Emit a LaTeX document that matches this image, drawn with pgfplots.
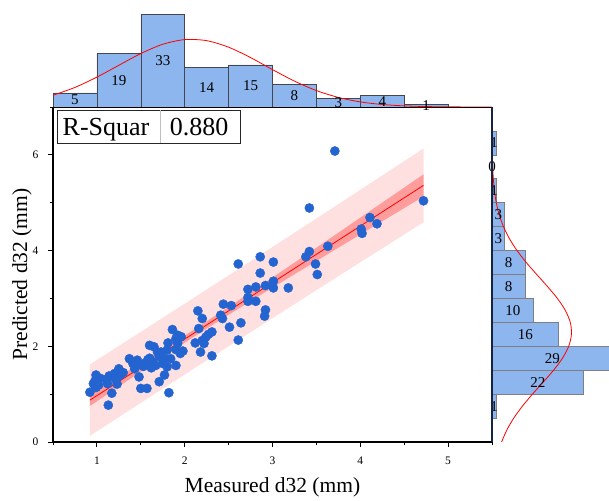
\documentclass[border=0pt]{standalone}
\usepackage{fontspec}
\setmainfont{Liberation Serif}
\usepackage{pgfplots}
\pgfplotsset{compat=1.18}
\definecolor{ptblue}{RGB}{35,100,208}
\definecolor{histblue}{RGB}{141,182,238}
\definecolor{histedge}{RGB}{70,70,80}
\definecolor{navy}{RGB}{20,35,70}
\begin{document}
\begin{tikzpicture}[x=1pt,y=1pt]
% ---------------- main scatter axis ----------------
\begin{axis}[at={(53pt,58pt)}, anchor=south west, scale only axis,
  width=439pt, height=335pt,
  xmin=0.5, xmax=5.5, ymin=0, ymax=7,
  axis x line*=bottom, axis y line*=left,
  axis line style={line width=1.3pt,-},
  xtick={1,2,3,4,5}, minor xtick={0.5,1.5,2.5,3.5,4.5,5.5},
  ytick={0,2,4,6}, minor ytick={1,3,5,7},
  tick align=outside, major tick length=5pt, minor tick length=3pt,
  tick style={line width=0.9pt, black},
  /pgf/number format/assume math mode=true,
  ticklabel style={font=\fontsize{11.5}{13}\selectfont},
  xticklabel style={yshift=-6pt},
  yticklabel style={xshift=-6pt},
  xlabel={Measured d32 (mm)}, ylabel={Predicted d32 (mm)},
  label style={font=\fontsize{21.5}{25}\selectfont},
  xlabel style={at={(axis description cs:0.5,-0.1522)}, anchor=base},
  ylabel style={at={(axis description cs:-0.0592,0.5)}, anchor=base},
]
\addplot[only marks, mark=*, mark size=4.6pt, color=ptblue, mark options={draw=ptblue, fill=ptblue}] coordinates {
(0.92,1.04)(0.96,1.22)(0.98,1.28)(0.99,1.14)(0.99,1.40)
(1.02,1.19)(1.04,1.33)(1.13,0.77)(1.17,1.02)(1.11,1.31)(1.12,1.22)(1.14,1.38)(1.20,1.43)(1.21,1.32)(1.23,1.21)
(1.25,1.53)(1.27,1.40)(1.37,1.74)(1.41,1.64)(1.43,1.53)(1.48,1.36)(1.46,1.71)(1.45,1.60)(1.30,1.45)
(1.50,1.12)(1.57,1.12)(1.53,1.58)(1.58,1.72)(1.60,2.02)(1.65,1.99)(1.60,1.75)(1.67,1.60)(1.63,1.67)(1.69,1.88)
(1.71,1.26)(1.73,1.88)(1.71,1.78)(1.77,1.40)(1.82,1.03)(1.80,1.57)(1.84,1.74)(1.77,1.74)(1.81,2.07)(1.86,2.35)
(1.80,1.92)(1.90,1.93)(1.95,1.85)(1.90,1.60)(1.92,2.23)(1.94,2.19)(1.90,2.16)(1.92,2.06)(1.96,2.20)(1.55,1.65)
(1.62,1.55)(1.75,1.64)(1.98,1.90)
(2.12,2.07)(2.15,2.74)(2.16,2.37)(2.18,1.88)(2.20,2.12)(2.22,2.06)(2.20,2.58)(2.24,2.19)(2.31,2.30)(2.31,1.80)
(2.41,2.65)(2.43,2.58)(2.44,2.88)(2.27,2.25)
(2.51,2.40)(2.53,2.85)(2.61,3.72)(2.61,2.13)(2.64,2.49)(2.72,3.19)(2.72,3.02)(2.72,2.94)(2.81,3.24)(2.81,2.94)
(2.86,3.87)(2.86,3.53)(2.92,3.27)(2.92,2.76)(2.91,2.63)
(3.01,3.76)(3.01,3.36)(3.01,3.22)(3.18,3.22)(3.38,3.87)(3.42,3.98)(3.42,4.89)(3.49,3.72)
(3.51,3.50)(3.63,4.09)(3.71,6.08)
(4.01,4.45)(4.02,4.36)(4.11,4.69)(4.19,4.56)
(4.72,5.04)
};
% prediction band
\addplot[draw=none, fill=red, fill opacity=0.12] coordinates {
(0.92,1.6211)(1.3,2.0663)(1.7,2.5364)(2.1,3.0081)(2.5,3.4812)(2.9,3.9559)(3.3,4.4321)(3.7,4.9097)(4.1,5.3888)(4.5,5.8693)(4.72,6.1345)
(4.72,4.5901)(4.5,4.3357)(4.1,3.8714)(3.7,3.4057)(3.3,2.9385)(2.9,2.4699)(2.5,1.9998)(2.1,1.5281)(1.7,1.0550)(1.3,0.5803)(0.92,0.1279)
} -- cycle;
% confidence band
\addplot[draw=none, fill=red, fill opacity=0.30] coordinates {
(0.92,0.9984)(1.3,1.4237)(1.7,1.8777)(2.1,2.3429)(2.5,2.8225)(2.9,3.3133)(3.3,3.8105)(3.7,4.3111)(4.1,4.8134)(4.5,5.3168)(4.72,5.5939)
(4.72,5.1307)(4.5,4.8882)(4.1,4.4468)(3.7,4.0043)(3.3,3.5601)(2.9,3.1125)(2.5,2.6585)(2.1,2.1933)(1.7,1.7137)(1.3,1.2229)(0.92,0.7506)
} -- cycle;
% fit line
\addplot[red, line width=0.8pt] coordinates {(0.92,0.8745)(4.72,5.3623)};
\end{axis}
% ---------------- top histogram ----------------
\begin{axis}[at={(53pt,393pt)}, anchor=south west, scale only axis,
  width=439pt, height=107pt,
  xmin=0.5, xmax=5.5, ymin=0, ymax=38.1, hide axis, clip=false]
\addplot[ybar interval, fill=histblue, draw=histedge, line width=0.6pt] coordinates {
(0.5,5)(1.0,19)(1.5,33)(2.0,14)(2.5,15)(3.0,8)(3.5,3)(4.0,4)(4.5,1)(5.0,1)};
\addplot[draw=none, nodes near coords, point meta=explicit symbolic,
  nodes near coords align=center,
  every node near coord/.append style={font=\fontsize{15}{17}\selectfont, black, anchor=center}] coordinates {
(0.75,2.5)[5] (1.25,9.5)[19] (1.75,16.5)[33] (2.25,7)[14] (2.75,7.5)[15] (3.25,4)[8] (3.75,1.5)[3] (4.25,2)[4] (4.75,0.5)[1]};
\addplot[red, line width=0.8pt, smooth] coordinates {
(0.5,4.18)(0.75,6.97)(1.0,10.64)(1.25,14.86)(1.5,19.03)(1.75,22.33)(2.0,23.99)(2.25,23.62)(2.5,21.29)(2.75,17.59)
(3.0,13.31)(3.25,9.22)(3.5,5.85)(3.75,3.41)(4.0,1.81)(4.25,0.89)(4.5,0.40)(4.75,0.16)(5.0,0.06)(5.25,0.02)(5.5,0.0)};
\end{axis}
% ---------------- right histogram ----------------
\begin{axis}[at={(492pt,58pt)}, anchor=south west, scale only axis,
  width=117pt, height=335pt,
  xmin=0, xmax=28.1, ymin=0, ymax=7, hide axis]
\addplot[xbar interval, fill=histblue, draw=histedge!70, line width=0.6pt] coordinates {
(1,0.5)(22,1.0)(29,1.5)(16,2.0)(10,2.5)(8,3.0)(8,3.5)(3,4.0)(3,4.5)(1,5.0)(0,5.5)(1,6.0)(1,6.5)};
\addplot[draw=none, nodes near coords, point meta=explicit symbolic,
  nodes near coords align=center, clip=false,
  every node near coord/.append style={font=\fontsize{15}{17}\selectfont, black, anchor=center}] coordinates {
(0.5,0.75)[1] (11,1.25)[22] (14.5,1.75)[29] (8,2.25)[16] (5,2.75)[10] (4,3.25)[8] (4,3.75)[8] (1.5,4.25)[3] (1.5,4.75)[3] (0.5,5.25)[1] (0,5.75)[0] (0.5,6.25)[1]};
\addplot[red, line width=0.8pt, smooth] coordinates {
(2.30,0)(3.56,0.25)(5.23,0.5)(7.31,0.75)(9.71,1.0)(12.29,1.25)(14.79,1.5)(16.92,1.75)(18.42,2.0)(19.08,2.25)
(18.80,2.5)(17.61,2.75)(15.70,3.0)(13.31,3.25)(10.74,3.5)(8.24,3.75)(6.01,4.0)(4.17,4.25)(2.76,4.5)(1.73,4.75)
(1.03,5.0)(0.59,5.25)(0.32,5.5)(0.16,5.75)(0.08,6.0)(0.04,6.25)(0.02,6.5)(0.0,7.0)};
\end{axis}
% frame lines top and right of main axis
\draw[line width=0.9pt, black] (53,393) -- (492,393);
\draw[line width=1.2pt, navy] (492,393) -- (492,58);
% R-square table
\draw[line width=0.8pt, black!85, fill=white] (57,357) rectangle (240,390);
\draw[line width=0.8pt, black!25] (160,357) -- (160,390);
\node[font=\fontsize{26}{30}\selectfont, anchor=base] at (106,364) {R-Squar};
\node[font=\fontsize{26}{30}\selectfont, anchor=base] at (199,364) {0.880};
\pgfresetboundingbox
\path (0,0) rectangle (609,500);
\end{tikzpicture}
\end{document}
